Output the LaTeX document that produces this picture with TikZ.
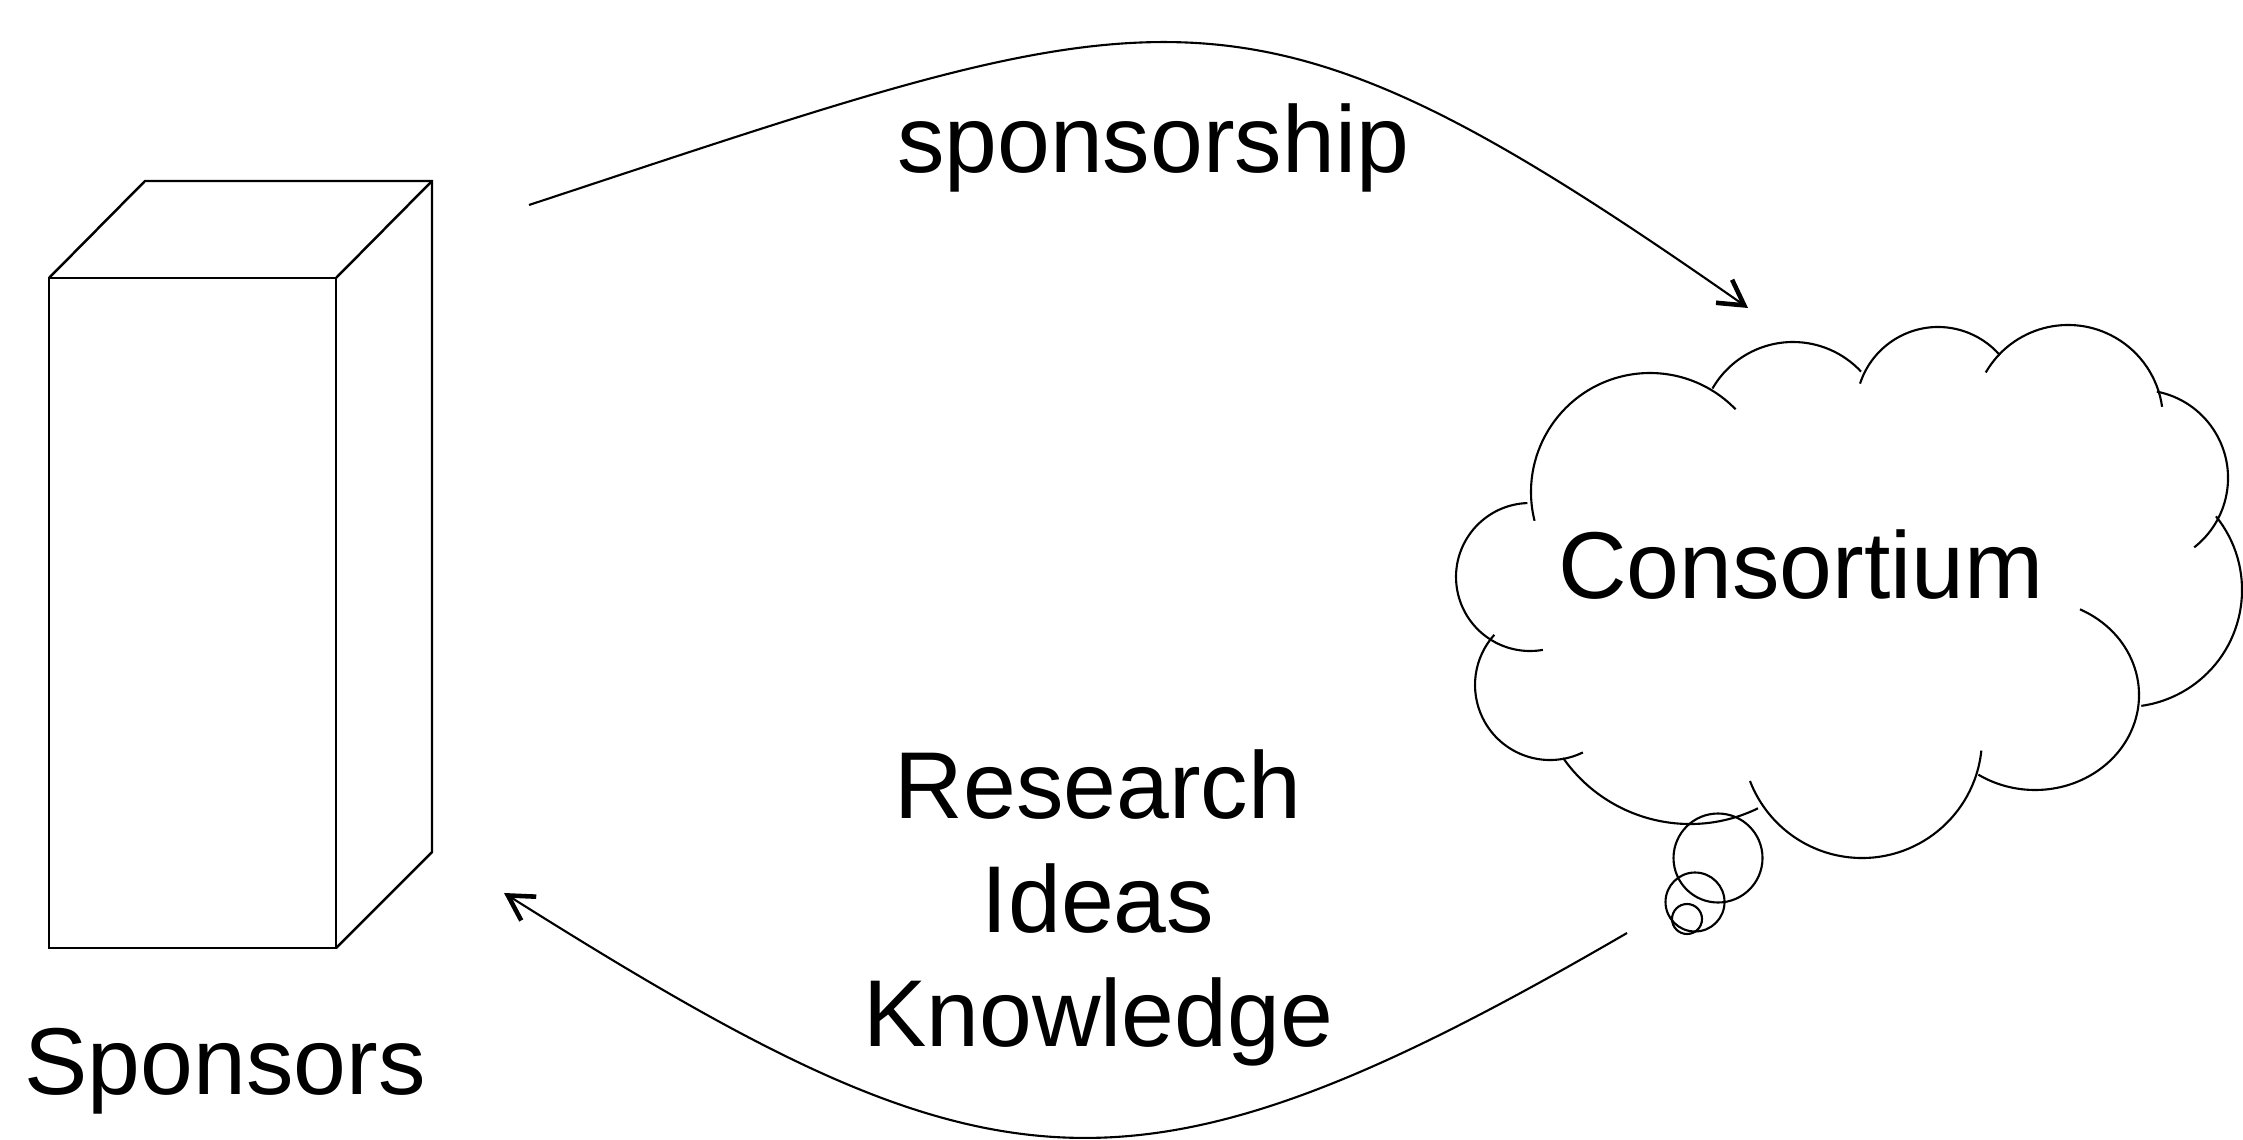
\documentclass[tikz,border=0pt]{standalone}
\usepackage{fontspec}
\setmainfont{Liberation Sans}
\usetikzlibrary{arrows.meta, positioning}

\begin{document}
\begin{tikzpicture}[x=0.01cm, y=-0.01cm,
		lbl/.style={font=\fontsize{27}{32.4}\selectfont, inner sep=0pt},
		edge/.style={line width=0.7pt},
		puff/.style={line width=0.6pt},
		flow/.style={line width=0.6pt, -{Straight Barb[length=7pt,width=8pt,line width=1.3pt]}}]
		\useasboundingbox (0,0) rectangle (2243,1140);

		% Draw the box of the sponsors
		\draw[edge] (49,278) rectangle (336,948);
		\draw[edge] (49,278) -- (145,181) -- (432,181) -- (432,852) -- (336,948);
		\draw[edge] (336,278) -- (432,181);

		% Draw the cloud
		\draw[puff] (1650,492) ++(166:119) arc[start angle=166, end angle=316, radius=119];
		\draw[puff] (1793,435) ++(210:93) arc[start angle=210, end angle=317, radius=93];
		\draw[puff] (1938,409) ++(198:82) arc[start angle=198, end angle=319, radius=82];
		\draw[puff] (2068,420) ++(210:95) arc[start angle=210, end angle=352, radius=95];
		\draw[puff] (2140,478) ++(281:88) arc[start angle=281, end angle=412, radius=88];
		\draw[puff] (2125,590) ++(321:117) arc[start angle=321, end angle=442, radius=117];
		\draw[puff] (2035,695) ++(295.6:104 and 95) arc[start angle=295.6, end angle=483, x radius=104, y radius=95];
		\draw[puff] (1862,738) ++(6:120) arc[start angle=6, end angle=159, radius=120];
		\draw[puff] (1690,669) ++(64:155) arc[start angle=64, end angle=145, radius=155];
		\draw[puff] (1550,685) ++(64:75) arc[start angle=64, end angle=222, radius=75];
		\draw[puff] (1530,577) ++(268:74) arc[start angle=268, end angle=80, radius=74];

		% Bubbles under the cloud
		\draw[puff] (1718,858) circle[radius=44.5];
		\draw[puff] (1695,902) circle[radius=29.5];
		\draw[puff] (1687,919) circle[radius=15];

		% Labels
		\node[lbl, anchor=base] (sponsorship) at (1153,173) {sponsorship};
		\node[lbl, anchor=base] (consortium) at (1801,598) {Consortium};
		\node[lbl, anchor=base] (research) at (1098,818) {Research};
		\node[lbl, anchor=base] (ideas) at (1098,932) {Ideas};
		\node[lbl, anchor=base] (knowledge) at (1098,1046) {Knowledge};
		\node[lbl, anchor=base] (sponsors) at (225,1094) {Sponsors};

		% Draw the arrows between sponsors and consortium
		\coordinate (sponsOut) at (529,205);
		\coordinate (consIn) at (1748,308);
		\coordinate (consOut) at (1627,933);
		\coordinate (sponsIn) at (504,893);
		\draw[flow] (sponsOut) .. controls (1175,-8) and (1239,-48) .. (consIn);
		\draw[flow] (consOut) .. controls (1126,1224) and (990,1199) .. (sponsIn);
\end{tikzpicture}
\end{document}
